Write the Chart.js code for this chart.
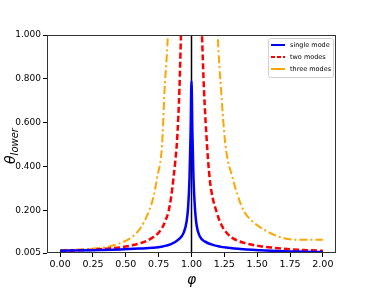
<!DOCTYPE html>
<html>
<head>
<meta charset="utf-8">
<script src="https://cdn.jsdelivr.net/npm/chart.js@4.4.0/dist/chart.umd.min.js"></script>
<style>
  body { margin: 0; background: #fff; }
  canvas { display: block; }
</style>
</head>
<body>
<canvas id="chart" width="374" height="291"></canvas>
<script>
// values
const phiSingle = [0, 0.25, 0.46, 0.6, 0.71, 0.78, 0.84, 0.9, 0.94, 0.963, 0.975, 0.985, 0.993, 1.0,
                   1.007, 1.015, 1.025, 1.038, 1.063, 1.1, 1.175, 1.275, 1.4, 1.525, 1.7, 1.85, 2.0];
const thetaSingle = [0.015, 0.018, 0.021, 0.025, 0.029, 0.035, 0.044, 0.066, 0.097, 0.15, 0.22, 0.35, 0.55, 0.79,
                     0.55, 0.35, 0.22, 0.135, 0.081, 0.058, 0.04, 0.029, 0.022, 0.018, 0.013, 0.011, 0.0095];

const phiTwo = [0, 0.25, 0.375, 0.463, 0.53, 0.588, 0.65, 0.7, 0.745, 0.776, 0.8, 0.825, 0.845, 0.863, 0.876, 0.888, 0.9, 0.908, 0.92, 0.93,
                1.0,
                1.07, 1.08, 1.095, 1.118, 1.138, 1.16, 1.19, 1.215, 1.24, 1.27, 1.31, 1.4, 1.525, 1.625, 1.75, 1.875, 2.0];
const thetaTwo = [0.015, 0.02, 0.026, 0.031, 0.038, 0.046, 0.058, 0.074, 0.095, 0.12, 0.15, 0.195, 0.26, 0.347, 0.42, 0.5, 0.63, 0.75, 1.0, 1.2,
                  null,
                  1.2, 1.0, 0.75, 0.5, 0.347, 0.26, 0.195, 0.15, 0.12, 0.095, 0.074, 0.051, 0.036, 0.029, 0.022, 0.018, 0.015];

const phiThree = [0, 0.25, 0.375, 0.463, 0.538, 0.613, 0.675, 0.71, 0.738, 0.776, 0.795, 0.82, 0.83,
                  1.0,
                  1.19, 1.2, 1.225, 1.258, 1.313, 1.35, 1.4, 1.463, 1.55, 1.625, 1.705, 1.83, 2.0];
const thetaThree = [0.018, 0.025, 0.035, 0.051, 0.074, 0.12, 0.195, 0.26, 0.347, 0.5, 0.75, 1.0, 1.2,
                    null,
                    1.2, 1.0, 0.75, 0.5, 0.347, 0.27, 0.195, 0.15, 0.112, 0.089, 0.072, 0.065, 0.065];

const phiMarker = [1, 1];
const thetaMarker = [0.005, 1.0];

const xTicks = [0, 0.25, 0.5, 0.75, 1.0, 1.25, 1.5, 1.75, 2.0];
const yTicks = [0.005, 0.2, 0.4, 0.6, 0.8, 1.0];

const seriesNames = ['single mode', 'two modes', 'three modes'];
const seriesColors = ['#0000ff', '#ff0000', '#ffa500'];

const pairs = (xs, ys) => xs.map((x, i) => ({ x: x, y: ys[i] }));

const frame = {
    id: 'frame',
    afterDatasetsDraw(chart) {
        const { ctx, chartArea: a } = chart;
        ctx.save();
        ctx.strokeStyle = '#333';
        ctx.lineWidth = 1;
        ctx.strokeRect(a.left + 0.5, a.top + 0.5, a.right - a.left - 1, a.bottom - a.top - 1);

        // axis titles
        ctx.fillStyle = '#000';
        ctx.textBaseline = 'middle';
        ctx.textAlign = 'center';
        ctx.font = 'italic 14px "DejaVu Sans"';
        ctx.fillText('φ', (a.left + a.right) / 2, 280);

        ctx.translate(10, 146);
        ctx.rotate(-Math.PI / 2);
        ctx.textAlign = 'left';
        ctx.textBaseline = 'alphabetic';
        const main = 'θ', sub = 'lower';
        ctx.font = 'italic 14px "DejaVu Sans"';
        const w1 = ctx.measureText(main).width;
        ctx.font = 'italic 10px "DejaVu Sans"';
        const w2 = ctx.measureText(sub).width;
        const start = -(w1 + w2) / 2;
        ctx.font = 'italic 14px "DejaVu Sans"';
        ctx.fillText(main, start, 5);
        ctx.font = 'italic 10px "DejaVu Sans"';
        ctx.fillText(sub, start + w1, 8);
        ctx.restore();

        // legend
        ctx.save();
        const lx = 268, ly = 38, lw = 65, lh = 39;
        ctx.fillStyle = 'rgba(255,255,255,0.8)';
        ctx.strokeStyle = '#d0d0d0';
        ctx.lineWidth = 1;
        ctx.beginPath();
        ctx.roundRect(lx + 0.5, ly + 0.5, lw, lh, 2);
        ctx.fill();
        ctx.stroke();
        ctx.font = '6.5px "DejaVu Sans"';
        ctx.textBaseline = 'middle';
        ctx.textAlign = 'left';
        seriesNames.forEach((name, i) => {
            const yy = ly + 7 + i * 12;
            ctx.strokeStyle = seriesColors[i];
            ctx.lineWidth = 2;
            ctx.setLineDash(i === 1 ? [4, 2] : []);
            ctx.beginPath();
            ctx.moveTo(lx + 3, yy);
            ctx.lineTo(lx + 17, yy);
            ctx.stroke();
            ctx.fillStyle = '#000';
            ctx.fillText(name, lx + 22, yy);
        });
        ctx.restore();
    }
};

new Chart(document.getElementById('chart').getContext('2d'), {
    type: 'line',
    data: {
        datasets: [
            {
                label: 'marker',
                data: pairs(phiMarker, thetaMarker),
                borderColor: '#000',
                borderWidth: 1.5,
                pointRadius: 0,
                order: 4
            },
            {
                label: seriesNames[2],
                data: pairs(phiThree, thetaThree),
                borderColor: seriesColors[2],
                borderWidth: 2,
                borderDash: [8, 3, 2, 3],
                pointRadius: 0,
                cubicInterpolationMode: 'monotone',
                order: 3
            },
            {
                label: seriesNames[1],
                data: pairs(phiTwo, thetaTwo),
                borderColor: seriesColors[1],
                borderWidth: 2.5,
                borderDash: [6, 3],
                pointRadius: 0,
                cubicInterpolationMode: 'monotone',
                order: 2
            },
            {
                label: seriesNames[0],
                data: pairs(phiSingle, thetaSingle),
                borderColor: seriesColors[0],
                borderWidth: 2.5,
                pointRadius: 0,
                cubicInterpolationMode: 'monotone',
                order: 1
            }
        ]
    },
    options: {
        responsive: false,
        animation: false,
        spanGaps: false,
        layout: { padding: { top: 35, right: 38, left: 0, bottom: 0 } },
        plugins: {
            legend: { display: false },
            tooltip: { enabled: false }
        },
        scales: {
            x: {
                type: 'linear',
                min: -0.1,
                max: 2.1,
                afterBuildTicks: s => { s.ticks = xTicks.map(v => ({ value: v })); },
                afterFit: s => { s.height = 38; },
                border: { display: false },
                grid: { drawOnChartArea: false, drawTicks: true, tickLength: 4, tickColor: '#000' },
                ticks: {
                    color: '#000',
                    padding: 2,
                    maxRotation: 0,
                    font: { family: 'DejaVu Sans', size: 9.5 },
                    callback: v => v.toFixed(2)
                }
            },
            y: {
                type: 'linear',
                min: 0.005,
                max: 1.0,
                afterBuildTicks: s => { s.ticks = yTicks.map(v => ({ value: v })); },
                afterFit: s => { s.width = 47; },
                border: { display: false },
                grid: { drawOnChartArea: false, drawTicks: true, tickLength: 4, tickColor: '#000' },
                ticks: {
                    color: '#000',
                    padding: 2,
                    font: { family: 'DejaVu Sans', size: 9 },
                    callback: v => v.toFixed(3)
                }
            }
        }
    },
    plugins: [frame]
});
</script>
</body>
</html>
